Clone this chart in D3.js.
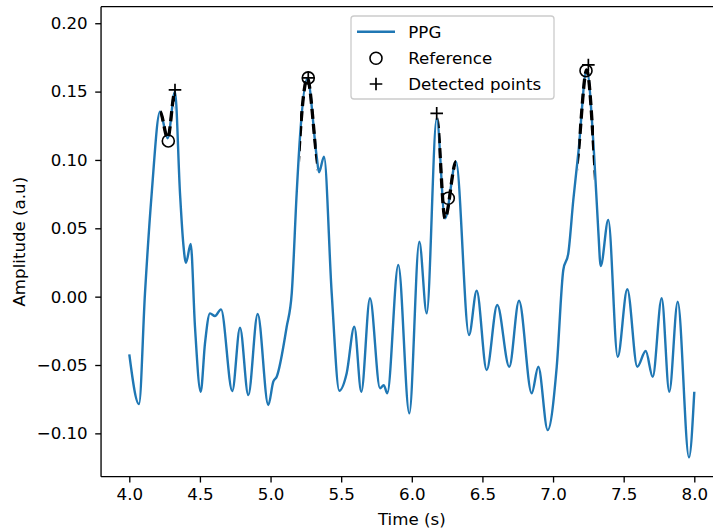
<!DOCTYPE html>
<html><head><meta charset="utf-8">
<script src="https://cdn.jsdelivr.net/npm/d3@7"></script>
<style>body{margin:0;background:#fff;overflow:hidden} svg{display:block;font-family:"DejaVu Sans",sans-serif}</style>
</head><body><svg id="c" width="713" height="532"></svg>
<script>
// ---- data ----
const time = [4.000,4.0687,4.111,4.1586,4.2173,4.2719,4.3235,4.359,4.382,4.4014,4.4347,4.465,4.5055,4.536,4.5713,4.6067,4.6492,4.7292,4.7837,4.8425,4.909,4.984,5.0195,5.0435,5.1143,5.150,5.185,5.2085,5.2602,5.3267,5.343,5.3784,5.433,5.4867,5.539,5.593,5.6425,5.704,5.775,5.801,5.8265,5.9044,5.9823,6.053,6.1055,6.1763,6.2351,6.313,6.405,6.4595,6.530,6.605,6.690,6.759,6.849,6.8956,6.962,7.026,7.0726,7.108,7.1434,7.1788,7.2382,7.290,7.320,7.3373,7.391,7.4577,7.5257,7.5965,7.656,7.7055,7.769,7.823,7.8825,7.9625,8.000];
const ppg = [-0.0422,-0.0786,0.0024,0.0756,0.1353,0.1159,0.1500,0.0756,0.0390,0.0248,0.0385,-0.0220,-0.0696,-0.0340,-0.0122,-0.0142,-0.0093,-0.0690,-0.0227,-0.0720,-0.0127,-0.0793,-0.0622,-0.0586,-0.0220,0.0024,0.0756,0.1170,0.1598,0.1024,0.0910,0.1024,0.0024,-0.0688,-0.0560,-0.0220,-0.0696,-0.0012,-0.0670,-0.0647,-0.0707,0.0232,-0.0854,0.0402,-0.0122,0.1305,0.0573,0.0987,-0.0281,0.0043,-0.0537,-0.0061,-0.0513,-0.0030,-0.0707,-0.0513,-0.0976,-0.0513,0.0195,0.0317,0.0707,0.1049,0.1658,0.1049,0.0488,0.0224,0.0561,-0.0440,0.0054,-0.0513,-0.0398,-0.0586,-0.0012,-0.0696,-0.0037,-0.1176,-0.0696];
const refTime = [4.2761,5.267,6.2584,7.2333];
const refAmp  = [0.1139,0.160,0.072,0.1653];
const detTime = [4.3235,5.267,6.1763,7.250];
const detAmp  = [0.1512,0.160,0.1341,0.1695];
const segStart = [4.217,5.2085,6.1876,7.1788];
const segEnd   = [4.3235,5.3267,6.313,7.290];
const xTicks = [4.0,4.5,5.0,5.5,6.0,6.5,7.0,7.5,8.0];
const yTicks = [-0.10,-0.05,0.00,0.05,0.10,0.15,0.20];
const legendLabels = ["PPG","Reference","Detected points"];

// ---- layout ----
const svg = d3.select("#c");
const L = 101.05, R = 722.55, T = 6.7, B = 476.7;
const x = d3.scaleLinear().domain([3.8, 8.2]).range([L, R]);
const y = d3.scaleLinear().domain([-0.1317, 0.2121]).range([B, T]);
const blue = "#1f77b4";
const fs = 16.67;
const sw = 1.33;

const defs = svg.append("defs");
defs.append("clipPath").attr("id","plot").append("rect")
  .attr("x",L).attr("y",T).attr("width",R-L).attr("height",B-T);
segStart.forEach((s,i)=>{
  defs.append("clipPath").attr("id","seg"+i).append("rect")
    .attr("x",x(s)).attr("y",T).attr("width",x(segEnd[i])-x(s)).attr("height",B-T);
});

const pts = time.map((t,i)=>[t,ppg[i]]);
const line = d3.line().x(d=>x(d[0])).y(d=>y(d[1])).curve(d3.curveMonotoneX);

svg.append("path").attr("d",line(pts)).attr("fill","none").attr("stroke",blue)
  .attr("stroke-width",2.4).attr("stroke-linejoin","round").attr("clip-path","url(#plot)");

segStart.forEach((s,i)=>{
  svg.append("path").attr("d",line(pts)).attr("fill","none").attr("stroke","#000")
    .attr("stroke-width",3.3).attr("stroke-dasharray","10,5").attr("clip-path","url(#seg"+i+")");
});

// reference circles
svg.selectAll("circle.ref").data(refTime).enter().append("circle").attr("class","ref")
  .attr("cx",d=>x(d)).attr("cy",(d,i)=>y(refAmp[i])).attr("r",6)
  .attr("fill","none").attr("stroke","#000").attr("stroke-width",1.6);
function plus(g, cx, cy, s){
  g.append("path").attr("d",`M${cx-s},${cy}H${cx+s}M${cx},${cy-s}V${cy+s}`)
   .attr("stroke","#000").attr("stroke-width",1.7).attr("fill","none");
}
detTime.forEach((t,i)=>plus(svg, x(t), y(detAmp[i]), 6.3));

// axes spines
svg.append("line").attr("x1",L).attr("x2",L).attr("y1",T).attr("y2",B).attr("stroke","#000").attr("stroke-width",sw);
svg.append("line").attr("x1",L).attr("x2",R).attr("y1",B).attr("y2",B).attr("stroke","#000").attr("stroke-width",sw);
svg.append("line").attr("x1",L).attr("x2",R).attr("y1",T).attr("y2",T).attr("stroke","#000").attr("stroke-width",sw);
svg.append("line").attr("x1",R).attr("x2",R).attr("y1",T).attr("y2",B).attr("stroke","#000").attr("stroke-width",sw);

// ticks
const fmtY = d => d3.format(".2f")(d).replace("-","\u2212");
const xa = d3.axisBottom(x).tickValues(xTicks).tickFormat(d3.format(".1f")).tickSize(5.83).tickPadding(5.83);
const gx = svg.append("g").attr("transform",`translate(0,${B})`).call(xa);
const ya = d3.axisLeft(y).tickValues(yTicks).tickFormat(fmtY).tickSize(5.83).tickPadding(7.5);
const gy = svg.append("g").attr("transform",`translate(${L},0)`).call(ya);
[gx,gy].forEach(g=>{
  g.select(".domain").remove();
  g.selectAll(".tick line").attr("stroke","#000").attr("stroke-width",sw);
  g.selectAll(".tick text").attr("fill","#000").style("font-size",fs+"px").style("font-family","DejaVu Sans");
});

// axis labels
svg.append("text").attr("x",(L+R)/2).attr("y",525).attr("text-anchor","middle")
  .style("font-size",fs+"px").text("Time (s)");
svg.append("text").attr("transform",`translate(24.5,${(T+B)/2}) rotate(-90)`).attr("text-anchor","middle")
  .style("font-size",fs+"px").text("Amplitude (a.u)");

// legend
const lg = svg.append("g");
lg.append("rect").attr("x",351).attr("y",16).attr("width",203).attr("height",83).attr("rx",3)
  .attr("fill","#fff").attr("fill-opacity",0.8).attr("stroke","#cccccc").attr("stroke-width",sw);
const rows = [31.7, 58.3, 84];
lg.append("line").attr("x1",357).attr("x2",395).attr("y1",rows[0]).attr("y2",rows[0]).attr("stroke",blue).attr("stroke-width",2.4);
lg.append("circle").attr("cx",376).attr("cy",rows[1]).attr("r",6).attr("fill","none").attr("stroke","#000").attr("stroke-width",1.6);
plus(lg, 376, rows[2], 6.3);
legendLabels.forEach((t,i)=>{
  lg.append("text").attr("x",408.3).attr("y",rows[i]+6).style("font-size",fs+"px").text(t);
});
</script></body></html>
